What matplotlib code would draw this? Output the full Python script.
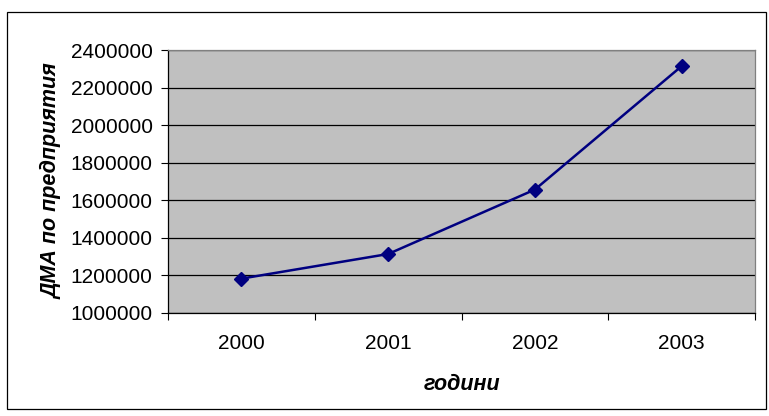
import matplotlib
matplotlib.use("Agg")
import matplotlib.pyplot as plt
from matplotlib.patches import Rectangle
import numpy as np

years = ["2000", "2001", "2002", "2003"]
values = [1183000, 1314000, 1657000, 2314000]
yticks = [1000000, 1200000, 1400000, 1600000, 1800000, 2000000, 2200000, 2400000]

plt.rcParams['font.family'] = ['Liberation Sans', 'DejaVu Sans']

W, H = 769, 416
fig = plt.figure(figsize=(W/100, H/100), dpi=100)
# outer border
fig.patches.append(Rectangle((7/W, 1 - 409/H), (766-7)/W, (409-12)/H, transform=fig.transFigure,
                             fill=False, edgecolor='black', linewidth=0.9))

left, right, top, bottom = 168, 755, 50, 313
ax = fig.add_axes([left/W, 1-bottom/H, (right-left)/W, (bottom-top)/H])
ax.set_facecolor('#C0C0C0')
x = np.arange(len(years))
ax.plot(x, values, color='#000080', linewidth=1.8, marker='D', markersize=7.5,
        markerfacecolor='#000080', markeredgecolor='#000080', zorder=3)
ax.set_xlim(-0.5, len(years)-0.5)
ax.set_ylim(yticks[0], yticks[-1])
ax.set_yticks(yticks)
ax.set_yticklabels([str(v) for v in yticks], fontsize=15)
ax.set_xticks(x)
ax.set_xticklabels(years, fontsize=15)
ax.set_xticks(np.arange(-0.5, len(years)), minor=True)
ax.tick_params(axis='x', which='major', length=0, pad=15)
ax.tick_params(axis='x', which='minor', length=5, width=0.8, direction='out')
ax.tick_params(axis='y', length=5, width=0.8, direction='out', pad=6)
ax.grid(axis='y', color='black', linewidth=0.9)
ax.set_axisbelow(True)
for s in ['top', 'right']:
    ax.spines[s].set_color('#808080')
for s in ['left', 'bottom']:
    ax.spines[s].set_color('black')
for s in ax.spines.values():
    s.set_linewidth(0.9)
ax.set_xlabel('години', fontsize=15.5, fontweight='bold', style='italic', labelpad=15)
ax.set_ylabel('ДМА по предприятия', fontsize=15.5, fontweight='bold', style='italic', labelpad=6)
fig.savefig('out.png', dpi=100)
